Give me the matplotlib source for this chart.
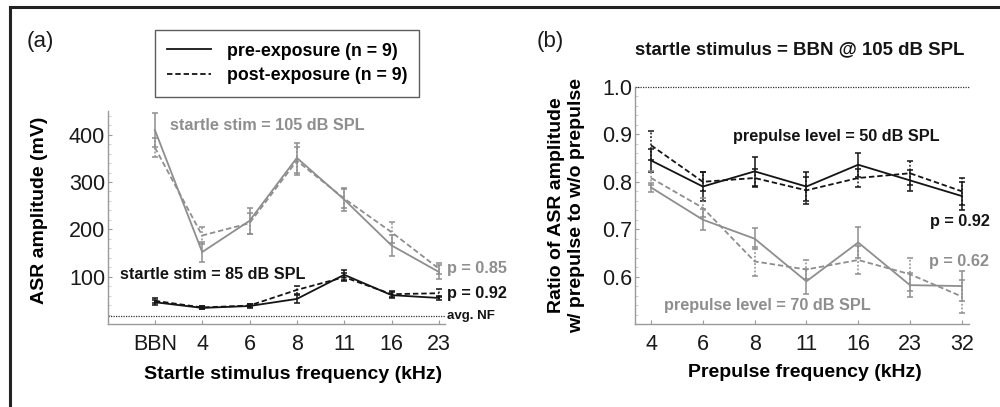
import matplotlib
matplotlib.use("Agg")
import matplotlib.pyplot as plt
from matplotlib.lines import Line2D
from matplotlib.ticker import MultipleLocator
import numpy as np

plt.rcParams['font.family'] = ['Liberation Sans', 'DejaVu Sans']

# ---------------- data ----------------
a_categories = ['BBN', '4', '6', '8', '11', '16', '23']
a_pre_105 = [410, 152, 218, 351, 263, 166, 110]
a_pre_105_err = [35, 22, 28, 32, 25, 22, 14]
a_post_105 = [373, 187, 213, 345, 265, 194, 117]
a_post_105_err = [20, 18, 22, 30, 20, 22, 11]
a_pre_85 = [46, 34, 38, 53, 104, 61, 55]
a_pre_85_err = [5, 3, 4, 9, 11, 7, 5]
a_post_85 = [49, 35, 39, 72, 99, 63, 65]
a_post_85_err = [5, 3, 4, 9, 8, 6, 9]
a_noise_floor = 17

b_categories = ['4', '6', '8', '11', '16', '23', '32']
b_pre_50 = [0.845, 0.790, 0.822, 0.790, 0.836, 0.803, 0.770]
b_pre_50_err = [0.025, 0.030, 0.030, 0.030, 0.025, 0.022, 0.030]
b_post_50 = [0.877, 0.800, 0.808, 0.782, 0.808, 0.818, 0.780]
b_post_50_err = [0.030, 0.020, 0.018, 0.028, 0.020, 0.025, 0.028]
b_pre_70 = [0.788, 0.720, 0.680, 0.590, 0.672, 0.582, 0.580]
b_pre_70_err = [0.010, 0.022, 0.022, 0.027, 0.032, 0.025, 0.032]
b_post_70 = [0.808, 0.745, 0.632, 0.615, 0.635, 0.605, 0.558]
b_post_70_err = [0.015, 0.020, 0.030, 0.020, 0.030, 0.035, 0.035]
b_reference = 1.0

BLACK = '#141414'
GRAY = '#8e8e8e'
SPINE = '#9a9a9a'

fig = plt.figure(figsize=(10, 4.07), dpi=100)

def px(x0, y0, x1, y1):
    W, H = 1000, 407
    return [x0 / W, 1 - y1 / H, (x1 - x0) / W, (y1 - y0) / H]

ax1 = fig.add_axes(px(108, 111, 445, 324))
ax2 = fig.add_axes(px(635, 87, 969, 324))

def series(ax, x, y, e, color, dashed):
    ls = (0, (3, 1.6)) if dashed else '-'
    eb = ax.errorbar(x, y, yerr=e, color=color, lw=1.3, ls=ls,
                     elinewidth=1.1, capsize=2.2, capthick=1.1, zorder=3)
    if dashed:
        for c in eb[2]:
            c.set_linestyle((0, (1.2, 1.2)))
    return eb

def style(ax):
    for s in ['top', 'right']:
        ax.spines[s].set_visible(False)
    for s in ['left', 'bottom']:
        ax.spines[s].set_color(SPINE)
        ax.spines[s].set_linewidth(1.0)
    ax.tick_params(axis='both', which='major', direction='in', length=3,
                   color=SPINE, labelsize=15.5, labelcolor='#1a1a1a')
    ax.tick_params(axis='y', which='minor', direction='in', length=1.8,
                   color='#c4c4c4')
    ax.tick_params(axis='x', pad=7)
    ax.tick_params(axis='y', pad=2)

# ---------------- panel (a) ----------------
xa = np.arange(len(a_categories))
series(ax1, xa, a_pre_105, a_pre_105_err, GRAY, False)
series(ax1, xa, a_post_105, a_post_105_err, GRAY, True)
series(ax1, xa, a_pre_85, a_pre_85_err, BLACK, False)
series(ax1, xa, a_post_85, a_post_85_err, BLACK, True)
ax1.axhline(a_noise_floor, color='#333333', lw=0.9, ls=(0, (1, 1)), zorder=2)
ax1.set_xlim(-0.99, 6.13)
ax1.set_ylim(0, 450)
ax1.set_xticks(xa)
ax1.set_xticklabels(a_categories)
ax1.set_yticks([100, 200, 300, 400])
ax1.yaxis.set_minor_locator(MultipleLocator(20))
style(ax1)
ax1.set_ylabel('ASR amplitude (mV)', fontsize=14, fontweight='bold')
ax1.yaxis.set_label_coords(-0.178, 0.535)
ax1.set_xlabel('Startle stimulus frequency (kHz)', fontsize=14, fontweight='bold')
ax1.xaxis.set_label_coords(0.55, -0.197)

ax1.text(0.32, 419, 'startle stim = 105 dB SPL', color=GRAY, fontsize=11.7,
         fontweight='bold', va='center', ha='left')
ax1.text(-0.74, 104, 'startle stim = 85 dB SPL', color=BLACK, fontsize=11.7,
         fontweight='bold', va='center', ha='left')
ax1.text(6.17, 118, 'p = 0.85', color=GRAY, fontsize=11.7, fontweight='bold',
         va='center', ha='left', clip_on=False)
ax1.text(6.17, 65, 'p = 0.92', color=BLACK, fontsize=11.7, fontweight='bold',
         va='center', ha='left', clip_on=False)
ax1.text(6.17, a_noise_floor, 'avg. NF', color=BLACK, fontsize=9.5, fontweight='bold',
         va='center', ha='left', clip_on=False)

# ---------------- panel (b) ----------------
xb = np.arange(len(b_categories))
series(ax2, xb, b_pre_50, b_pre_50_err, BLACK, False)
series(ax2, xb, b_post_50, b_post_50_err, BLACK, True)
series(ax2, xb, b_pre_70, b_pre_70_err, GRAY, False)
series(ax2, xb, b_post_70, b_post_70_err, GRAY, True)
ax2.axhline(b_reference, color='#333333', lw=0.9, ls=(0, (1, 1)), zorder=2, clip_on=False)
ax2.set_xlim(-0.31, 6.14)
ax2.set_ylim(0.5, 1.0)
ax2.set_xticks(xb)
ax2.set_xticklabels(b_categories)
ax2.set_yticks([0.6, 0.7, 0.8, 0.9, 1.0])
ax2.set_yticklabels(['0.6', '0.7', '0.8', '0.9', '1.0'])
ax2.yaxis.set_minor_locator(MultipleLocator(0.02))
style(ax2)
ax2.set_ylabel('Ratio of ASR amplitude\nw/ prepulse to w/o prepulse', fontsize=14,
               fontweight='bold', linespacing=1.25)
ax2.yaxis.set_label_coords(-0.15, 0.5)
ax2.set_xlabel('Prepulse frequency (kHz)', fontsize=14, fontweight='bold')
ax2.xaxis.set_label_coords(0.51, -0.169)

ax2.text(1.58, 0.896, 'prepulse level = 50 dB SPL', color=BLACK, fontsize=11.7,
         fontweight='bold', va='center', ha='left')
ax2.text(0.25, 0.538, 'prepulse level = 70 dB SPL', color=GRAY, fontsize=11.7,
         fontweight='bold', va='center', ha='left')
ax2.text(5.39, 0.717, 'p = 0.92', color=BLACK, fontsize=11.7, fontweight='bold',
         va='center', ha='left', clip_on=False)
ax2.text(5.37, 0.632, 'p = 0.62', color=GRAY, fontsize=11.7, fontweight='bold',
         va='center', ha='left', clip_on=False)

# ---------------- figure-level text ----------------
fig.text(0.027, 1 - 41 / 407, '(a)', fontsize=16, va='center', ha='left', color='#1a1a1a')
fig.text(0.537, 1 - 41 / 407, '(b)', fontsize=16, va='center', ha='left', color='#1a1a1a')
fig.text(0.800, 1 - 50 / 407, 'startle stimulus = BBN @ 105 dB SPL', fontsize=13.4,
         fontweight='bold', va='center', ha='center', color=BLACK)

handles = [Line2D([0], [0], color=BLACK, lw=1.3),
           Line2D([0], [0], color=BLACK, lw=1.3, ls=(0, (3, 1.6)))]
leg = fig.legend(handles, ['pre-exposure (n = 9)', 'post-exposure (n = 9)'],
                 loc='center', bbox_to_anchor=(287 / 1000, 1 - 63.5 / 407),
                 frameon=True, fancybox=False, edgecolor='#333333',
                 prop={'weight': 'bold', 'size': 12.8}, handlelength=2.5,
                 handletextpad=0.85, labelspacing=0.45, borderpad=0.7,
                 borderaxespad=0)
leg.get_frame().set_linewidth(1.0)

# figure border (left and top edges)
fig.add_artist(Line2D([10 / 1000, 10 / 1000], [0, 1 - 7 / 407], color='#222222',
                      lw=2.2, transform=fig.transFigure))
fig.add_artist(Line2D([10 / 1000, 1], [1 - 7 / 407, 1 - 7 / 407], color='#222222',
                      lw=2.2, transform=fig.transFigure))

fig.savefig('out.png', dpi=100)
